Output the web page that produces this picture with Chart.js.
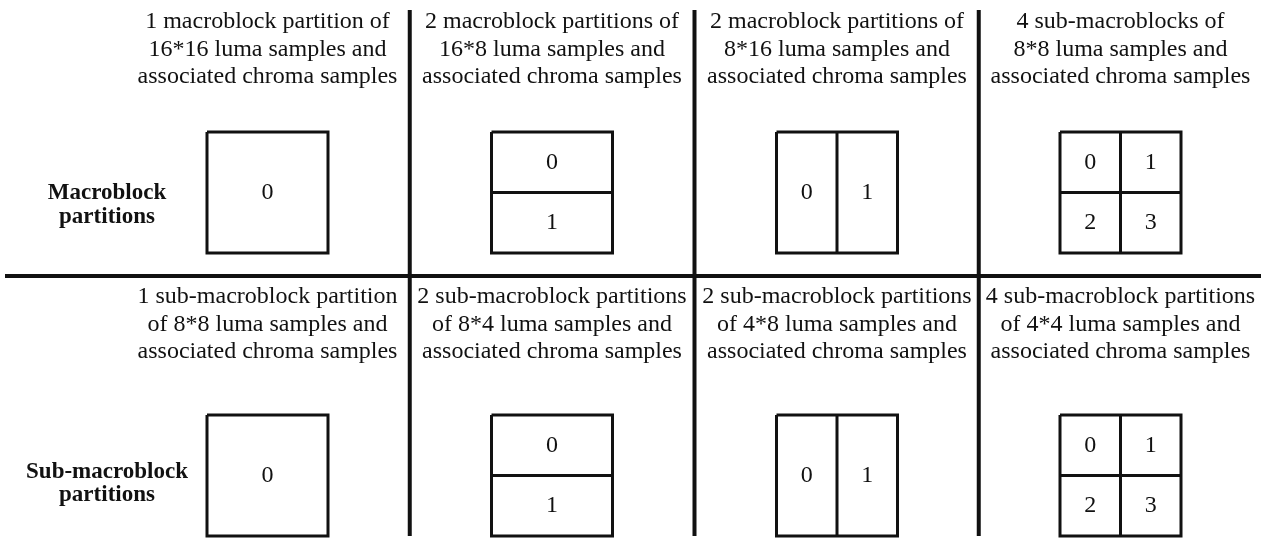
<!DOCTYPE html>
<html>
<head>
<meta charset="utf-8">
<script src="https://cdn.jsdelivr.net/npm/chart.js@4/dist/chart.umd.min.js"></script>
<style>
  html, body { margin: 0; padding: 0; background: #fff; }
  canvas { display: block; }
</style>
</head>
<body>
<canvas id="partitions" width="1261" height="538"></canvas>
<script>
// column titles, one list of lines per column
const macroTitles = [
  ['1 macroblock partition of', '16*16 luma samples and', 'associated chroma samples'],
  ['2 macroblock partitions of', '16*8 luma samples and', 'associated chroma samples'],
  ['2 macroblock partitions of', '8*16 luma samples and', 'associated chroma samples'],
  ['4 sub-macroblocks of', '8*8 luma samples and', 'associated chroma samples']
];
const subTitles = [
  ['1 sub-macroblock partition', 'of 8*8 luma samples and', 'associated chroma samples'],
  ['2 sub-macroblock partitions', 'of 8*4 luma samples and', 'associated chroma samples'],
  ['2 sub-macroblock partitions', 'of 4*8 luma samples and', 'associated chroma samples'],
  ['4 sub-macroblock partitions', 'of 4*4 luma samples and', 'associated chroma samples']
];
const rowLabels = [['Macroblock', 'partitions'], ['Sub-macroblock', 'partitions']];

// how each block is split: columns x rows of partitions
const splitCols = [1, 1, 2, 2];
const splitRows = [1, 2, 1, 2];

// layout (pixel units of the hidden scales)
const colCenters = [267.5, 552, 837, 1120.5];
const boxSize = 121;
const boxTops = [132, 415];
const titleBaselines = [28, 303];
const lineStep = 27.5;
const labelX = 107;
const labelBaselines = [[199, 223], [478, 501]];
const sepY = 276;

const titles = [macroTitles, subTitles];

function segment(points, width) {
  return {
    data: points,
    showLine: true,
    borderColor: '#111',
    borderWidth: width,
    pointRadius: 0,
    borderCapStyle: 'butt',
    borderJoinStyle: 'miter',
    tension: 0
  };
}

const datasets = [];
const cellLabels = [];

boxTops.forEach((top, r) => {
  colCenters.forEach((cx, c) => {
    const left = cx - boxSize / 2;
    const nx = splitCols[c], ny = splitRows[c];
    // outer box
    datasets.push(segment([
      { x: left, y: top }, { x: left + boxSize, y: top },
      { x: left + boxSize, y: top + boxSize }, { x: left, y: top + boxSize },
      { x: left, y: top }
    ], 3));
    // inner splits
    for (let i = 1; i < nx; i++) {
      const x = left + boxSize * i / nx;
      datasets.push(segment([{ x, y: top }, { x, y: top + boxSize }], 3));
    }
    for (let j = 1; j < ny; j++) {
      const y = top + boxSize * j / ny;
      datasets.push(segment([{ x: left, y }, { x: left + boxSize, y }], 3));
    }
    // partition numbers in raster order
    for (let j = 0; j < ny; j++) {
      for (let i = 0; i < nx; i++) {
        cellLabels.push({
          text: String(j * nx + i),
          x: left + boxSize * (i + 0.5) / nx,
          y: top + boxSize * (j + 0.5) / ny
        });
      }
    }
  });
});

// separators between columns and rows
for (let c = 1; c < colCenters.length; c++) {
  const x = (colCenters[c - 1] + colCenters[c]) / 2;
  datasets.push(segment([{ x, y: 10 }, { x, y: 536 }], 4));
}
datasets.push(segment([{ x: 5, y: sepY }, { x: 1261, y: sepY }], 4));

const textPlugin = {
  id: 'diagramText',
  afterDatasetsDraw(chart) {
    const { ctx, scales: { x: xs, y: ys } } = chart;
    ctx.save();
    ctx.fillStyle = '#111';
    ctx.textAlign = 'center';
    ctx.textBaseline = 'alphabetic';

    ctx.font = '24px "Liberation Serif", "Times New Roman", serif';
    titles.forEach((rowTitles, r) => {
      rowTitles.forEach((lines, c) => {
        lines.forEach((line, k) => {
          ctx.fillText(line, xs.getPixelForValue(colCenters[c]),
            ys.getPixelForValue(titleBaselines[r] + k * lineStep));
        });
      });
    });

    ctx.textBaseline = 'middle';
    cellLabels.forEach(l => {
      ctx.fillText(l.text, xs.getPixelForValue(l.x), ys.getPixelForValue(l.y));
    });

    ctx.textBaseline = 'alphabetic';
    ctx.font = 'bold 23px "Liberation Serif", "Times New Roman", serif';
    rowLabels.forEach((lines, r) => {
      lines.forEach((line, k) => {
        ctx.fillText(line, xs.getPixelForValue(labelX), ys.getPixelForValue(labelBaselines[r][k]));
      });
    });
    ctx.restore();
  }
};

new Chart(document.getElementById('partitions').getContext('2d'), {
  type: 'scatter',
  data: { datasets },
  options: {
    responsive: false,
    animation: false,
    layout: { padding: 0 },
    plugins: { legend: { display: false }, tooltip: { enabled: false } },
    scales: {
      x: { type: 'linear', min: 0, max: 1261, display: false },
      y: { type: 'linear', min: 0, max: 538, reverse: true, display: false }
    }
  },
  plugins: [textPlugin]
});
</script>
</body>
</html>
